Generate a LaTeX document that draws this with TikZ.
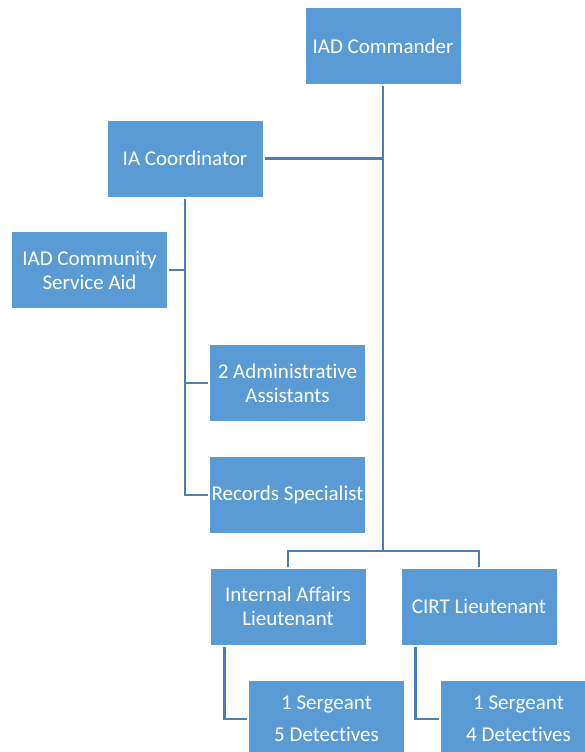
\documentclass[tikz,border=0pt]{standalone}
\usepackage{fontspec}
\setmainfont{Carlito}[Ligatures=CommonOff]
\definecolor{boxblue}{HTML}{5B9BD5}
\definecolor{lineblue}{HTML}{4A7EBB}

\begin{document}
\begin{tikzpicture}[x=1pt, y=-1pt,
    unit/.style={rectangle, fill=boxblue, text=white, minimum width=155pt, minimum height=76pt, align=center, inner sep=0pt, outer sep=2pt, font=\fontsize{21}{24}\selectfont},
    link/.style={draw=lineblue, line width=2.6pt}]
    \clip (0,0) rectangle (585,752);

    \node[unit] (cmd) at (383,46) {IAD Commander};
    \node[unit] (coord) at (185,158.5) {IA Coordinator};
    \node[unit] (csa) at (89.5,270) {IAD Community\\Service Aid};
    \node[unit] (admin) at (287.5,383) {2 Administrative\\Assistants};
    \node[unit] (rec) at (287.5,495) {Records Specialist};
    \node[unit] (ial) at (288,606.5) {Internal Affairs\\Lieutenant};
    \node[unit] (cirt) at (479,606.5) {CIRT Lieutenant};
    \node[unit] (ias) at (326.5,719) {1 Sergeant\\[8pt]5 Detectives};
    \node[unit] (cirts) at (518.5,719) {1 Sergeant\\[8pt]4 Detectives};

    \coordinate (bus) at (383,551);

    \draw[link] (cmd.south) -- (bus);
    \draw[link] (coord.east) -- (coord.east -| cmd.south);
    \draw[link] (ial.north) |- (bus) -| (cirt.north);
    \draw[link] (coord.south) |- (rec.west);
    \draw[link] (csa.east) -- (csa.east -| coord.south);
    \draw[link] (admin.west) -- (admin.west -| coord.south);
    \draw[link] ([xshift=16pt]ial.south west) |- (ias.west);
    \draw[link] ([xshift=16pt]cirt.south west) |- (cirts.west);
\end{tikzpicture}
\end{document}
